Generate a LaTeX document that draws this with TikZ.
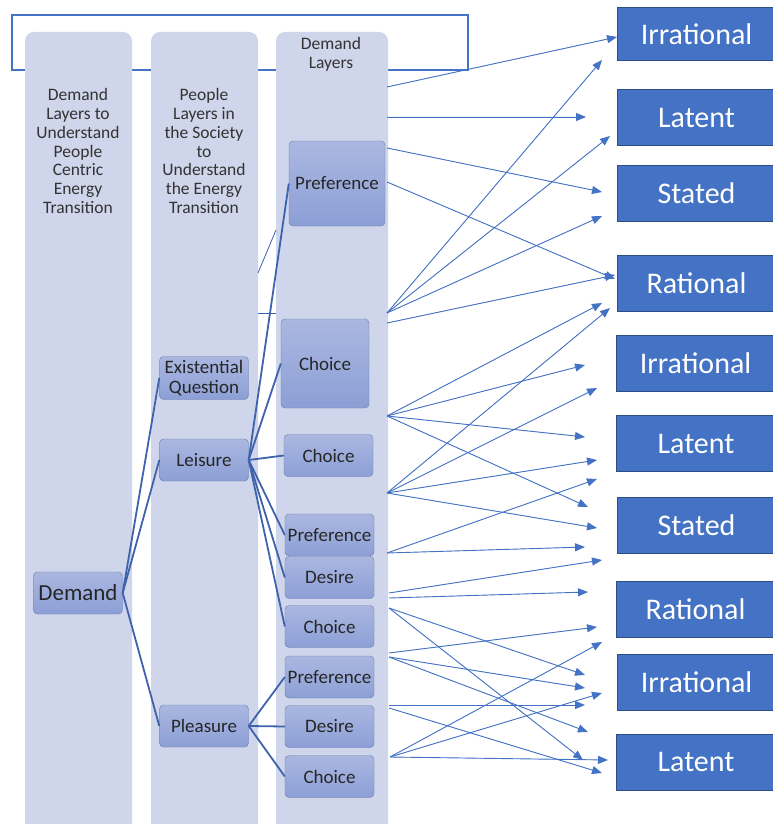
\documentclass[tikz,border=0pt]{standalone}
\usepackage{fontspec}
\setmainfont{Carlito}
\usetikzlibrary{arrows.meta}
\definecolor{colfill}{HTML}{CFD5EA}
\definecolor{boxtop}{HTML}{AAB7E0}
\definecolor{boxbot}{HTML}{8C9FD6}
\definecolor{boxline}{HTML}{6E7DAB}
\definecolor{treeline}{HTML}{3F62AD}
\definecolor{arrblue}{HTML}{4472C4}
\definecolor{tgtline}{HTML}{2E4D87}
\begin{document}
\begin{tikzpicture}[x=1pt,y=-1pt]
			\tikzstyle{arr} = [-{Triangle[length=10pt,width=8pt]}, draw=arrblue, fill=arrblue, line width=0.9pt]
			\tikzstyle{branch} = [draw=treeline, line width=1.8pt]
			\tikzstyle{layer} = [rectangle, rounded corners=4pt, draw=boxline, top color=boxtop, bottom color=boxbot, minimum width=89pt, minimum height=42pt, inner sep=1pt, align=center, text=black!85, font=\fontsize{19}{20}\selectfont]
			\tikzstyle{target} = [rectangle, fill=arrblue, draw=tgtline, line width=1pt, minimum width=159pt, minimum height=56pt, text=white, font=\fontsize{30}{32}\selectfont]
			\tikzstyle{header} = [align=center, text=black!80, font=\fontsize{17.5}{18.7}\selectfont]
			\useasboundingbox (0,0) rectangle (773,824);
			\draw [draw=arrblue, line width=1.3pt] (12,15) rectangle (468,70);
			% columns
			\fill [colfill, rounded corners=9pt] (25,900) -- (25,32) -- (132,32) -- (132,900);
			\fill [colfill, rounded corners=9pt] (151,900) -- (151,32) -- (258,32) -- (258,900);
			\fill [colfill, rounded corners=9pt] (276,900) -- (276,32) -- (388,32) -- (388,900);
			\node [header] (h1) at (78,151) {Demand\\Layers to\\Understand\\People\\Centric\\Energy\\Transition};
			\node [header] (h2) at (204,151) {People\\Layers in\\the Society\\to\\Understand\\the Energy\\Transition};
			\node [header] (h3) at (331,54) {Demand\\Layers};
			\coordinate (g1) at (258,273);
			\coordinate (g2) at (276,230);
			\coordinate (g3) at (258,313);
			\coordinate (g4) at (276,313);
			\draw [draw=treeline, line width=0.8pt] (g1) -- (g2);
			\draw [draw=treeline, line width=0.8pt] (g3) -- (g4);
			% tree
			\node [layer, font=\fontsize{23}{24}\selectfont] (demand) at (78,593) {Demand};
			\node [layer, minimum height=43pt] (exist) at (204,378) {Existential\\Question};
			\node [layer] (leisure) at (204,460) {Leisure};
			\node [layer] (pleasure) at (204,726) {Pleasure};
			\node [layer, minimum width=96pt, minimum height=85pt] (pref0) at (337,183.5) {Preference};
			\node [layer, minimum width=88pt, minimum height=89pt] (choice0) at (325,363.5) {Choice};
			\node [layer] (choice1) at (328.5,455.5) {Choice};
			\node [layer] (pref1) at (329.5,535) {Preference};
			\node [layer] (desire1) at (329.5,577.5) {Desire};
			\node [layer] (choice2) at (329.5,626.5) {Choice};
			\node [layer] (pref2) at (329.5,677) {Preference};
			\node [layer] (desire2) at (329.5,726.5) {Desire};
			\node [layer] (choice3) at (329.5,776.5) {Choice};
			\draw [branch] (demand.east) -- (exist.west);
			\draw [branch] (demand.east) -- (leisure.west);
			\draw [branch] (demand.east) -- (pleasure.west);
			\draw [branch] (leisure.east) -- (pref0.west);
			\draw [branch] (leisure.east) -- (choice0.west);
			\draw [branch] (leisure.east) -- (choice1.west);
			\draw [branch] (leisure.east) -- (pref1.west);
			\draw [branch] (leisure.east) -- (desire1.west);
			\draw [branch] (leisure.east) -- (choice2.west);
			\draw [branch] (pleasure.east) -- (pref2.west);
			\draw [branch] (pleasure.east) -- (desire2.west);
			\draw [branch] (pleasure.east) -- (choice3.west);
			% targets
			\node [target, minimum height=53pt] (irr1) at (696.5,34.5) {Irrational};
			\node [target] (lat1) at (696.5,117.5) {Latent};
			\node [target] (sta1) at (696.5,193) {Stated};
			\node [target] (rat1) at (696.5,283.5) {Rational};
			\node [target] (irr2) at (695.5,363.5) {Irrational};
			\node [target] (lat2) at (696,443.5) {Latent};
			\node [target] (sta2) at (696.5,525.5) {Stated};
			\node [target] (rat2) at (695.5,609) {Rational};
			\node [target] (irr3) at (696.5,682) {Irrational};
			\node [target] (lat3) at (696,762) {Latent};
			% arrow ends
			\coordinate (s1) at (387,87);
			\coordinate (s2) at (387,117);
			\coordinate (s3) at (387,148);
			\coordinate (s4) at (387,182);
			\coordinate (s5) at (387,313);
			\coordinate (s6) at (387,323);
			\coordinate (s7) at (387,416);
			\coordinate (s8) at (387,493);
			\coordinate (s9) at (387,553);
			\coordinate (s10) at (389,593);
			\coordinate (s11) at (389,598);
			\coordinate (s12) at (389,608);
			\coordinate (s13) at (389,653);
			\coordinate (s14) at (389,657);
			\coordinate (s15) at (389,705);
			\coordinate (s16) at (389,708);
			\coordinate (s17) at (390,757);
			\coordinate (t1) at (617,37);
			\coordinate (t2) at (586,117);
			\coordinate (t3) at (602,192);
			\coordinate (t4) at (615,279);
			\coordinate (t5) at (602,60);
			\coordinate (t6) at (610,136);
			\coordinate (t7) at (602,216);
			\coordinate (t8) at (615,275);
			\coordinate (t9) at (602,303);
			\coordinate (t10) at (585,365);
			\coordinate (t11) at (585,437);
			\coordinate (t12) at (588,507);
			\coordinate (t13) at (610,308);
			\coordinate (t14) at (597,388);
			\coordinate (t15) at (597,460);
			\coordinate (t16) at (597,528);
			\coordinate (t17) at (597,479);
			\coordinate (t18) at (585,547);
			\coordinate (t19) at (602,560);
			\coordinate (t20) at (588,592);
			\coordinate (t21) at (585,675);
			\coordinate (t22) at (583,760);
			\coordinate (t23) at (597,627);
			\coordinate (t24) at (585,688);
			\coordinate (t25) at (588,732);
			\coordinate (t26) at (585,705);
			\coordinate (t27) at (602,773);
			\coordinate (t28) at (602,642);
			\coordinate (t29) at (602,693);
			\coordinate (t30) at (608,760);
			\draw [arr] (s1) -- (t1);
			\draw [arr] (s2) -- (t2);
			\draw [arr] (s3) -- (t3);
			\draw [arr] (s4) -- (t4);
			\draw [arr] (s5) -- (t5);
			\draw [arr] (s5) -- (t6);
			\draw [arr] (s5) -- (t7);
			\draw [arr] (s6) -- (t8);
			\draw [arr] (s7) -- (t9);
			\draw [arr] (s7) -- (t10);
			\draw [arr] (s7) -- (t11);
			\draw [arr] (s7) -- (t12);
			\draw [arr] (s8) -- (t13);
			\draw [arr] (s8) -- (t14);
			\draw [arr] (s8) -- (t15);
			\draw [arr] (s8) -- (t16);
			\draw [arr] (s9) -- (t17);
			\draw [arr] (s9) -- (t18);
			\draw [arr] (s10) -- (t19);
			\draw [arr] (s11) -- (t20);
			\draw [arr] (s12) -- (t21);
			\draw [arr] (s12) -- (t22);
			\draw [arr] (s13) -- (t23);
			\draw [arr] (s14) -- (t24);
			\draw [arr] (s14) -- (t25);
			\draw [arr] (s15) -- (t26);
			\draw [arr] (s16) -- (t27);
			\draw [arr] (s17) -- (t28);
			\draw [arr] (s17) -- (t29);
			\draw [arr] (s17) -- (t30);
\end{tikzpicture}
\end{document}
